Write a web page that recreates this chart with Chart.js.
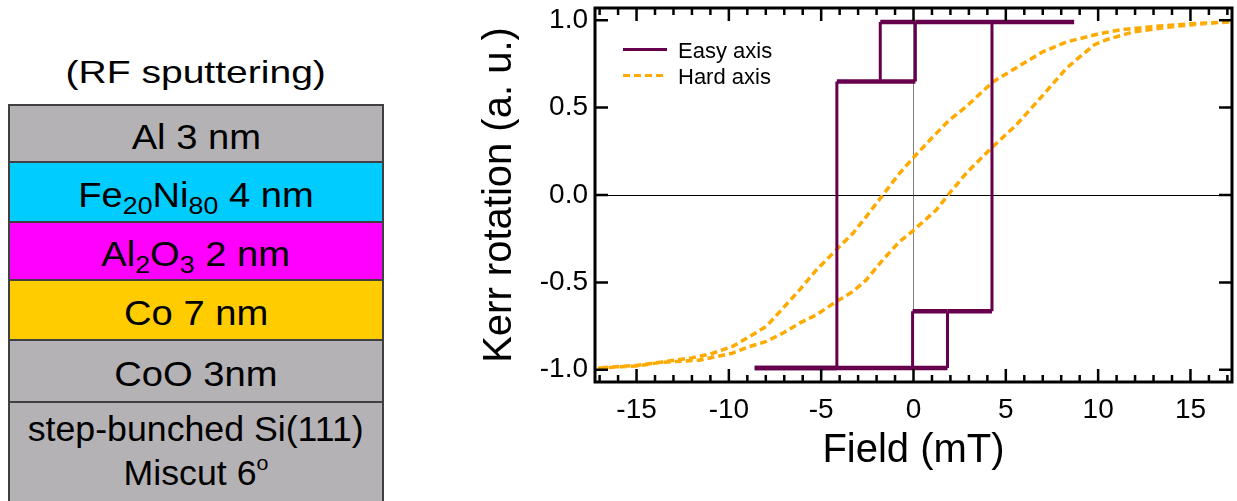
<!DOCTYPE html>
<html>
<head>
<meta charset="utf-8">
<script src="https://cdn.jsdelivr.net/npm/chart.js@4.4.0/dist/chart.umd.min.js"></script>
<style>
  body { margin: 0; width: 1237px; height: 501px; overflow: hidden; background: #fff;
         font-family: "Liberation Sans", Arial, sans-serif; position: relative; }
  #stackTitle { position: absolute; left: 0; width: 392px; top: 56px; text-align: center;
                font-size: 32px; line-height: 1; }
  #stackTitle span { display: inline-block; transform: scaleX(1.22); }
  #stack { position: absolute; left: 8px; top: 104px; width: 372px; height: 420px;
           border: 2px solid #404040; border-bottom: none; }
  .layer { border-bottom: 2px solid #404040; display: flex; align-items: center;
           justify-content: center; font-size: 35px; line-height: 1; color: #000;
           box-sizing: border-box; padding-top: 5px; }
  .layer span { display: inline-block; transform: scaleX(1.09); white-space: nowrap; }
  .layer sub { font-size: 0.7em; vertical-align: -0.3em; line-height: 0; }
  .layer sup { font-size: 0.6em; vertical-align: 0.7em; line-height: 0; }
  .gray { background: #b4b2b4; }
  .si { display: block; padding-top: 4px; text-align: center; line-height: 44px; }
  .si span { transform: scaleX(1.02); }
  #chartBox { position: absolute; left: 440px; top: 0; width: 797px; height: 501px; }
</style>
</head>
<body>
<div id="stackTitle"><span>(RF sputtering)</span></div>
<div id="stack">
  <div class="layer gray" style="height:57px"><span>Al 3 nm</span></div>
  <div class="layer" style="height:60px;background:#00ccff"><span>Fe<sub>20</sub>Ni<sub>80</sub> 4 nm</span></div>
  <div class="layer" style="height:58px;background:#ff00ff"><span>Al<sub>2</sub>O<sub>3</sub> 2 nm</span></div>
  <div class="layer" style="height:60px;background:#ffcc00"><span>Co 7 nm</span></div>
  <div class="layer gray" style="height:62px"><span>CoO 3nm</span></div>
  <div class="layer gray si" style="height:130px;border-bottom:none"><span>step-bunched Si(111)</span><br><span>Miscut 6<sup>o</sup></span></div>
</div>
<div id="chartBox"><canvas id="kerrChart"></canvas></div>

<script>
// Easy axis loop (field in mT, Kerr rotation in a.u.), null = pen up
const easyField = [-8.6, 1.84, 1.84, 4.25, 4.25, 8.7, 8.7,
                   4.25, 0.1, 0.1, -4.15, -4.15, -8.6, -8.6,
                   -1.8, -1.8, 0.1, 0.1,
                   -0.05, -0.05, 1.84];
const easyKerr  = [-0.99, -0.99, -0.665, -0.665, 0.99, 0.99, null,
                   0.99, 0.99, 0.65, 0.65, -0.99, -0.99, null,
                   0.65, 0.99, 0.99, null,
                   -0.99, -0.665, -0.665];

// Hard axis loop: upper branch from +17 down to -17, then lower branch back up
const hardField = [17.1, 15.0, 12.8, 11.2, 10.1, 8.3, 7.0, 5.9, 4.3, 2.85, 1.95, 1.05, 0.05, -0.76, -1.66, -2.56, -3.28, -4.18, -5.27, -6.17, -7.07, -7.97, -8.88, -9.8, -11.0, -12.0, -13.6, -15.0, -17.1,
                   -15.0, -13.6, -11.6, -10.0, -9.8, -8.88, -7.97, -7.07, -6.17, -5.27, -4.18, -3.28, -2.56, -1.66, -0.76, -0.03, 1.23, 1.95, 2.85, 4.2, 5.56, 7.0, 8.27, 9.0, 9.8, 10.43, 11.9, 13.7, 15.5, 17.1];
const hardKerr  = [0.99, 0.98, 0.962, 0.945, 0.924, 0.876, 0.819, 0.75, 0.647, 0.505, 0.43, 0.333, 0.22, 0.124, 0.0, -0.124, -0.219, -0.314, -0.43, -0.543, -0.648, -0.752, -0.81, -0.867, -0.91, -0.932, -0.955, -0.975, -0.99,
                   -0.978, -0.957, -0.945, -0.91, -0.905, -0.867, -0.838, -0.79, -0.733, -0.686, -0.61, -0.552, -0.486, -0.371, -0.267, -0.205, -0.086, 0.01, 0.124, 0.267, 0.40, 0.57, 0.724, 0.79, 0.86, 0.888, 0.933, 0.96, 0.978, 0.99];

const seriesNames = ['Easy axis', 'Hard axis'];
const xTickValues = [-15, -10, -5, 0, 5, 10, 15];
const yTickValues = [-1, -0.5, 0, 0.5, 1];

const FONT = '"Liberation Sans", Arial, sans-serif';

function toPoints(xs, ys) {
    return xs.map((x, i) => ({ x: x, y: ys[i] }));
}

// inward ticks on all four sides plus the frame
const frameTicks = {
    id: 'frameTicks',
    afterDatasetsDraw(chart) {
        const { ctx, chartArea: a, scales: { x, y } } = chart;
        ctx.save();
        ctx.strokeStyle = '#000';
        ctx.lineWidth = 2.5;
        ctx.beginPath();
        for (let v = Math.ceil(x.min); v <= Math.floor(x.max); v++) {
            const px = x.getPixelForValue(v);
            const len = v % 5 === 0 ? 13 : 7;
            ctx.moveTo(px, a.bottom); ctx.lineTo(px, a.bottom - len);
            ctx.moveTo(px, a.top); ctx.lineTo(px, a.top + len);
        }
        yTickValues.forEach(v => {
            const py = y.getPixelForValue(v);
            ctx.moveTo(a.left, py); ctx.lineTo(a.left + 13, py);
            ctx.moveTo(a.right, py); ctx.lineTo(a.right - 13, py);
        });
        ctx.stroke();
        ctx.lineWidth = 3;
        ctx.strokeRect(a.left, a.top, a.right - a.left, a.bottom - a.top);
        ctx.restore();
    }
};

// legend in the top-left corner of the plot
const innerLegend = {
    id: 'innerLegend',
    afterDraw(chart) {
        const { ctx, chartArea: a } = chart;
        ctx.save();
        ctx.font = '22px ' + FONT;
        ctx.fillStyle = '#000';
        ctx.textBaseline = 'alphabetic';
        chart.data.datasets.forEach((ds, i) => {
            const lineY = a.top + 41.5 + i * 26;
            const x0 = a.left + 28;
            ctx.strokeStyle = ds.borderColor;
            ctx.lineWidth = 3;
            ctx.setLineDash(ds.borderDash || []);
            ctx.beginPath();
            ctx.moveTo(x0, lineY);
            ctx.lineTo(x0 + 44, lineY);
            ctx.stroke();
            ctx.setLineDash([]);
            ctx.fillText(ds.label, x0 + 55, lineY + 8);
        });
        ctx.restore();
    }
};

function renderKerrChart() {
    const ctx = document.getElementById('kerrChart').getContext('2d');
    new Chart(ctx, {
        type: 'scatter',
        data: {
            datasets: [{
                label: seriesNames[0],
                data: toPoints(easyField, easyKerr),
                showLine: true,
                borderColor: '#66004d',
                borderWidth: 3,
                pointRadius: 0,
                spanGaps: false,
                // the noisy flat plateaus look thicker than the switching steps
                segment: {
                    borderWidth: c => c.p0.parsed.y === c.p1.parsed.y ? 4.5 : 3
                }
            }, {
                label: seriesNames[1],
                data: toPoints(hardField, hardKerr),
                showLine: true,
                borderColor: '#ffaa00',
                borderWidth: 3.5,
                borderDash: [7, 4],
                pointRadius: 0
            }]
        },
        options: {
            responsive: true,
            maintainAspectRatio: false,
            animation: false,
            layout: { padding: { left: 0, right: 5, top: 8, bottom: 0 } },
            plugins: { legend: { display: false }, tooltip: { enabled: false } },
            scales: {
                x: {
                    type: 'linear',
                    min: -17.25,
                    max: 17.25,
                    afterBuildTicks: s => { s.ticks = xTickValues.map(v => ({ value: v })); },
                    afterFit: s => { s.height = 119; s.paddingLeft = 0; s.paddingRight = 0; },
                    border: { display: false },
                    grid: {
                        drawTicks: false,
                        lineWidth: 1,
                        color: c => (c.tick && c.tick.value === 0) ? '#808080' : 'rgba(0,0,0,0)'
                    },
                    ticks: { color: '#000', padding: 11, maxRotation: 0, font: { family: FONT, size: 28 } },
                    title: {
                        display: true, text: 'Field (mT)', color: '#000',
                        font: { family: FONT, size: 40 }, padding: { top: 0, bottom: 26 }
                    }
                },
                y: {
                    type: 'linear',
                    min: -1.07,
                    max: 1.07,
                    afterBuildTicks: s => { s.ticks = yTickValues.map(v => ({ value: v })); },
                    afterFit: s => { s.width = 155; s.paddingTop = 0; s.paddingBottom = 0; },
                    border: { display: false },
                    grid: {
                        drawTicks: false,
                        lineWidth: 1,
                        color: c => (c.tick && c.tick.value === 0) ? '#000' : 'rgba(0,0,0,0)'
                    },
                    ticks: {
                        color: '#000', padding: 7, font: { family: FONT, size: 28 },
                        callback: v => v.toFixed(1)
                    },
                    title: {
                        display: true, text: 'Kerr rotation (a. u.)', color: '#000',
                        font: { family: FONT, size: 40 }, padding: { top: 36, bottom: 0 }
                    }
                }
            }
        },
        plugins: [frameTicks, innerLegend]
    });
}

document.addEventListener('DOMContentLoaded', renderKerrChart);
</script>
</body>
</html>
